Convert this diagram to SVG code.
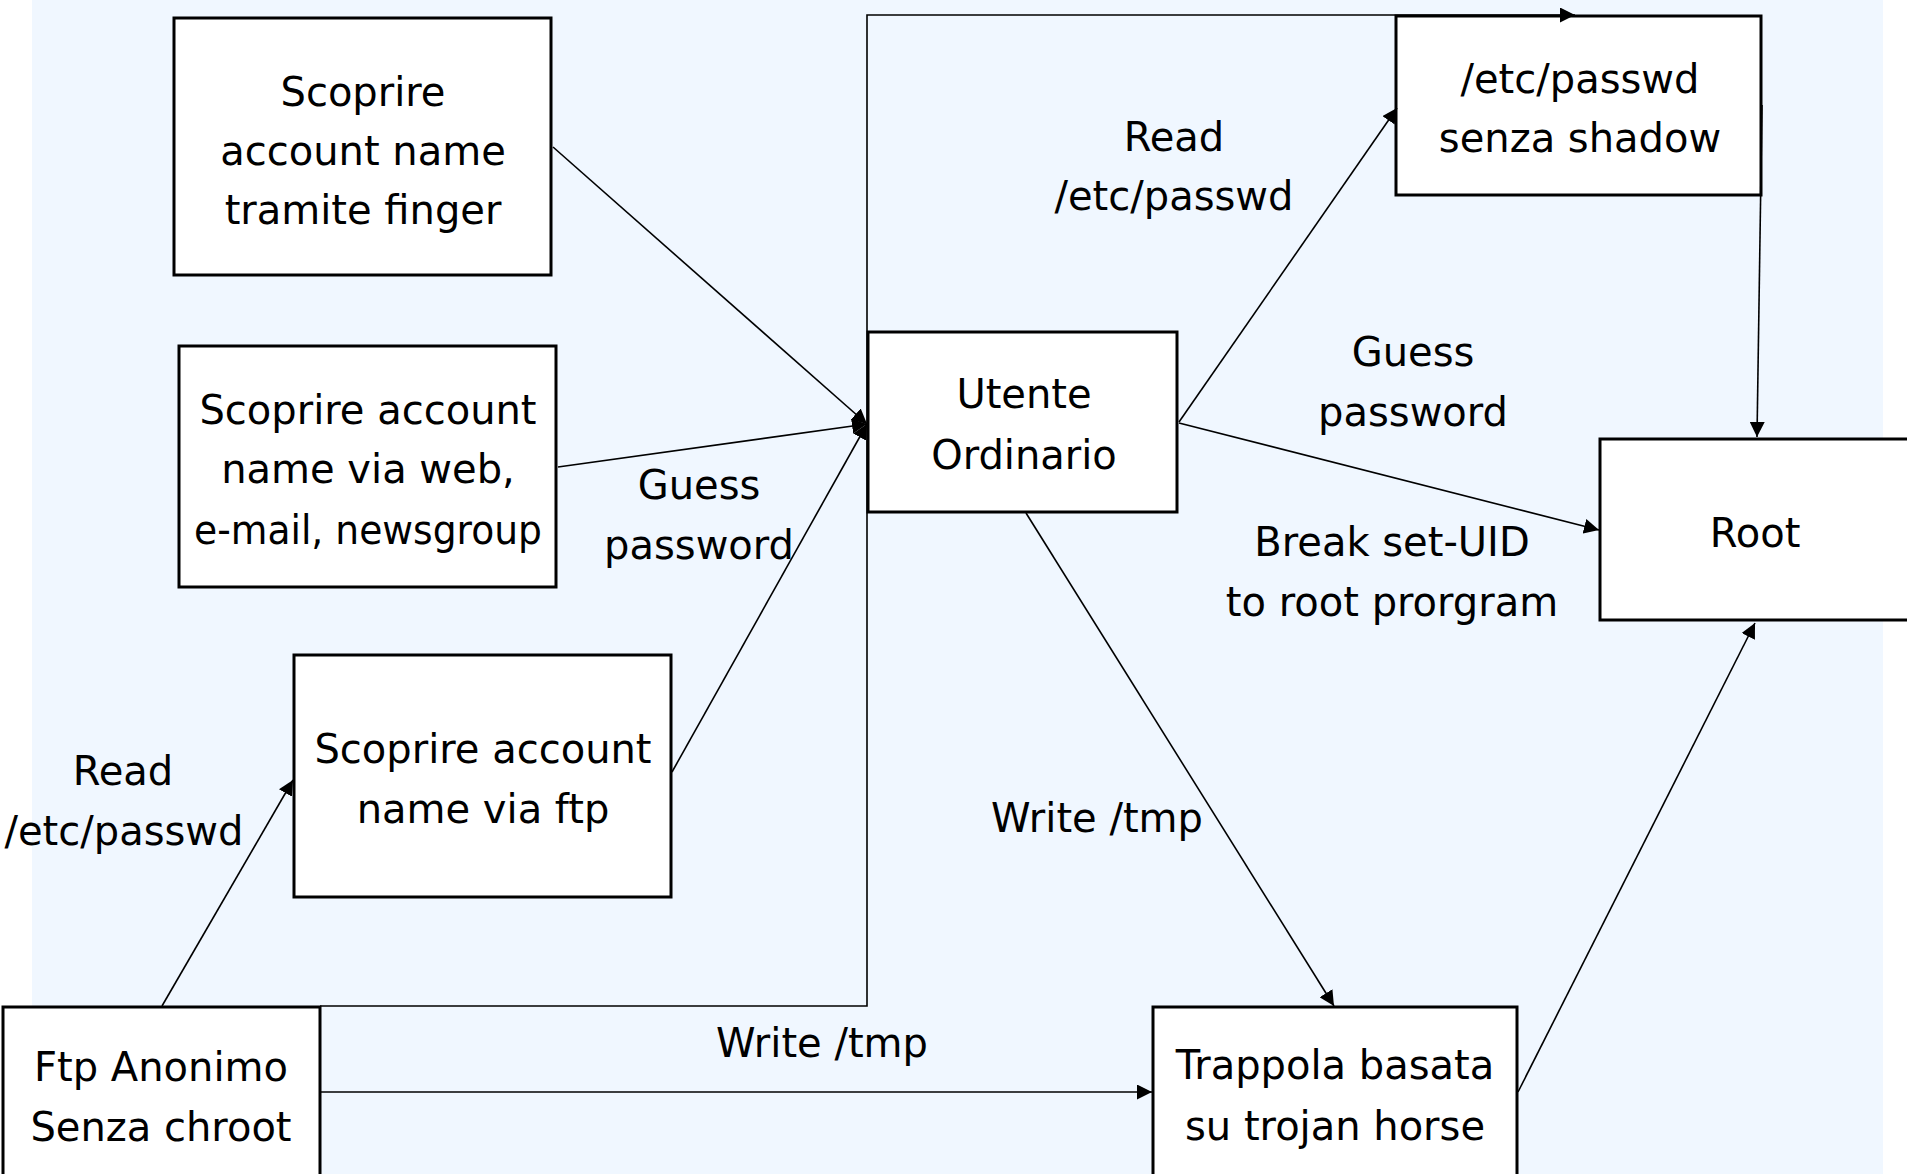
<svg xmlns="http://www.w3.org/2000/svg" width="1907" height="1174" viewBox="0 0 1907 1174">
<style>
.box{fill:#ffffff;stroke:#000000;stroke-width:3}
.t{font-family:"DejaVu Sans",sans-serif;font-size:40px;fill:#000000;text-anchor:middle}
.c{fill:none;stroke:#000000;stroke-width:1.6}
</style>
<defs>
<marker id="ah" markerUnits="userSpaceOnUse" markerWidth="15" markerHeight="15" refX="15" refY="7.5" orient="auto">
<path d="M0,0 L15,7.5 L0,15 z" fill="#000000"/>
</marker>
</defs>
<rect x="0" y="0" width="1907" height="1174" fill="#ffffff"/>
<rect x="32" y="0" width="1851" height="1174" fill="#F0F7FF"/>

<g id="n-finger">
<rect class="box" x="174" y="18" width="377" height="257"/>
<text class="t" x="363" y="106">Scoprire</text>
<text class="t" x="363" y="165">account name</text>
<text class="t" x="363" y="224">tramite finger</text>
</g>
<g id="n-web">
<rect class="box" x="179" y="346" width="377" height="241"/>
<text class="t" x="368" y="424">Scoprire account</text>
<text class="t" x="368" y="483">name via web,</text>
<text class="t" x="368" y="544" textLength="348" lengthAdjust="spacingAndGlyphs">e-mail, newsgroup</text>
</g>
<g id="n-ftp">
<rect class="box" x="294" y="655" width="377" height="242"/>
<text class="t" x="483" y="763">Scoprire account</text>
<text class="t" x="483" y="823">name via ftp</text>
</g>
<g id="n-ftpanon">
<rect class="box" x="3" y="1007" width="317" height="190"/>
<text class="t" x="161" y="1081">Ftp Anonimo</text>
<text class="t" x="161" y="1141">Senza chroot</text>
</g>
<g id="n-utente">
<rect class="box" x="868" y="332" width="309" height="180"/>
<text class="t" x="1024" y="408">Utente</text>
<text class="t" x="1024" y="469">Ordinario</text>
</g>
<g id="n-passwd">
<rect class="box" x="1396" y="16" width="365" height="179"/>
<text class="t" x="1580" y="93">/etc/passwd</text>
<text class="t" x="1580" y="152">senza shadow</text>
</g>
<g id="n-root">
<rect class="box" x="1600" y="439" width="330" height="181"/>
<text class="t" x="1755" y="547">Root</text>
</g>
<g id="n-trappola">
<rect class="box" x="1153" y="1007" width="364" height="190"/>
<text class="t" x="1335" y="1079">Trappola basata</text>
<text class="t" x="1335" y="1140">su trojan horse</text>
</g>

<g id="connectors">
<line class="c" x1="553" y1="147" x2="867" y2="424" marker-end="url(#ah)"/>
<line class="c" x1="558" y1="467" x2="867" y2="424" marker-end="url(#ah)"/>
<line class="c" x1="672" y1="772" x2="867" y2="424" marker-end="url(#ah)"/>
<path class="c" d="M320,1006 H867 V15 H1575" marker-end="url(#ah)"/>
<line class="c" x1="162" y1="1006" x2="293" y2="780" marker-end="url(#ah)"/>
<line class="c" x1="320" y1="1092" x2="1152" y2="1092" marker-end="url(#ah)"/>
<line class="c" x1="1179" y1="422" x2="1397" y2="108" marker-end="url(#ah)"/>
<line class="c" x1="1179" y1="423" x2="1599" y2="530" marker-end="url(#ah)"/>
<path class="c" d="M1762,105 L1757,437" marker-end="url(#ah)"/>
<line class="c" x1="1026" y1="513" x2="1334" y2="1006" marker-end="url(#ah)"/>
<line class="c" x1="1518" y1="1092" x2="1755" y2="623" marker-end="url(#ah)"/>
</g>

<g id="labels">
<text class="t" x="1174" y="151">Read</text>
<text class="t" x="1174" y="210">/etc/passwd</text>
<text class="t" x="1413" y="366">Guess</text>
<text class="t" x="1413" y="426">password</text>
<text class="t" x="1392" y="556">Break set-UID</text>
<text class="t" x="1392" y="616">to root prorgram</text>
<text class="t" x="699" y="499">Guess</text>
<text class="t" x="699" y="559">password</text>
<text class="t" x="123" y="785">Read</text>
<text class="t" x="124" y="845">/etc/passwd</text>
<text class="t" x="1097" y="832">Write /tmp</text>
<text class="t" x="822" y="1057">Write /tmp</text>
</g>
</svg>
